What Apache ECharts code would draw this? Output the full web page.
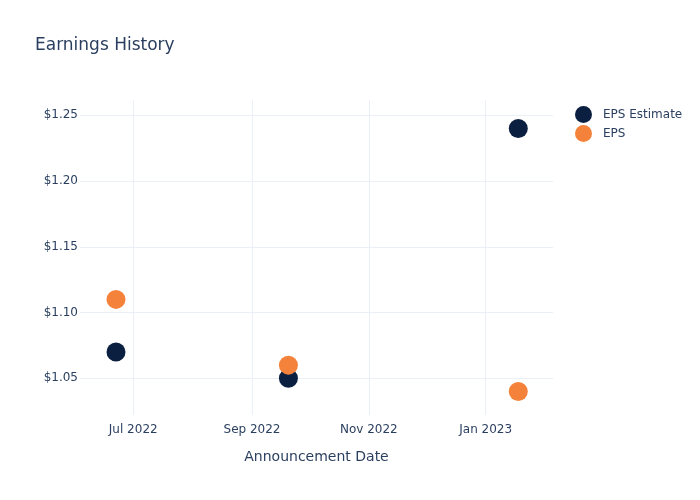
<!DOCTYPE html>
<html>
<head>
<meta charset="utf-8">
<script src="https://cdn.jsdelivr.net/npm/echarts@6/dist/echarts.min.js"></script>
<style>html,body{margin:0;padding:0;background:#fff}#c{width:700px;height:500px}</style>
</head>
<body>
<div id="c"></div>
<script>
const dates = ['2022-06-22', '2022-09-20', '2023-01-18'];
const epsEstimate = [1.07, 1.05, 1.24];
const eps = [1.11, 1.06, 1.04];
const seriesNames = ['EPS Estimate', 'EPS'];
const monthNames = ['Jan','Feb','Mar','Apr','May','Jun','Jul','Aug','Sep','Oct','Nov','Dec'];

const chart = echarts.init(document.getElementById('c'), null, {renderer: 'canvas'});
const textColor = '#2a3f5f';
const gridColor = '#EBF0F8';
chart.setOption({
  useUTC: true,
  animation: false,
  backgroundColor: '#fff',
  title: {
    text: 'Earnings History',
    left: 35, top: 37, padding: 0,
    textStyle: {fontFamily: 'DejaVu Sans', fontSize: 17, fontWeight: 'normal', color: textColor}
  },
  legend: {
    orient: 'vertical',
    left: 570, top: 101,
    itemWidth: 17, itemHeight: 17, itemGap: 2,
    icon: 'circle',
    textStyle: {fontFamily: 'DejaVu Sans', fontSize: 12, color: textColor, padding: [0,0,0,6]},
    data: seriesNames
  },
  grid: {left: 80, right: 147, top: 100, bottom: 85},
  xAxis: {
    type: 'time',
    min: '2022-06-03T05:00:00',
    max: '2023-02-05T03:00:00',
    splitNumber: 4,
    name: 'Announcement Date',
    nameLocation: 'middle',
    nameGap: 35,
    nameTextStyle: {fontFamily: 'DejaVu Sans', fontSize: 14, color: textColor},
    axisLine: {show: false},
    axisTick: {show: false},
    axisLabel: {
      fontFamily: 'DejaVu Sans', fontSize: 12, color: textColor, margin: 9,
      showMinLabel: false, showMaxLabel: false,
      formatter: function (v) {
        const d = new Date(v);
        return monthNames[d.getUTCMonth()] + ' ' + d.getUTCFullYear();
      }
    },
    splitLine: {show: true, showMinLine: false, showMaxLine: false, lineStyle: {color: gridColor, width: 1}}
  },
  yAxis: {
    type: 'value',
    min: 1.0221,
    max: 1.2616,
    axisLine: {show: false},
    axisTick: {show: false},
    axisLabel: {
      fontFamily: 'DejaVu Sans', fontSize: 12, color: textColor, margin: 2,
      showMinLabel: false, showMaxLabel: false,
      formatter: function (v) { return '$' + v.toFixed(2); }
    },
    splitLine: {show: true, showMinLine: false, showMaxLine: false, lineStyle: {color: gridColor, width: 1}}
  },
  series: [
    {
      name: seriesNames[0], type: 'scatter', symbolSize: 19,
      itemStyle: {color: '#0b1f40', opacity: 1},
      data: dates.map((d, i) => [d, epsEstimate[i]])
    },
    {
      name: seriesNames[1], type: 'scatter', symbolSize: 19,
      itemStyle: {color: '#f5823a', opacity: 1},
      data: dates.map((d, i) => [d, eps[i]])
    }
  ]
});
</script>
</body>
</html>
